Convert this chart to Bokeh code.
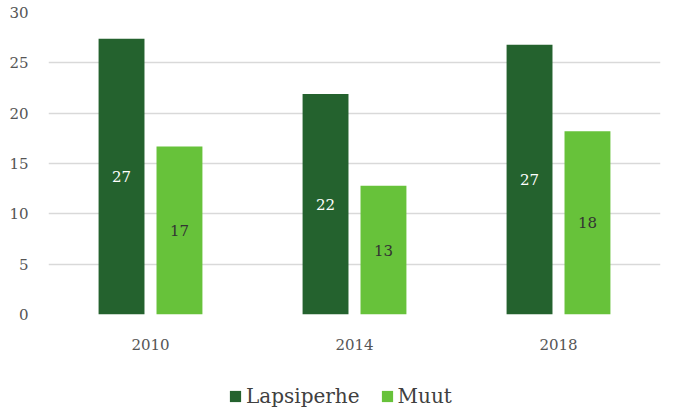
from bokeh.plotting import figure
from bokeh.models import ColumnDataSource, Legend, LegendItem, FactorRange, SingleIntervalTicker, Range1d
from bokeh.layouts import column
from bokeh.transform import dodge
from bokeh.embed import file_html
from bokeh.resources import INLINE
from bokeh.core.properties import value

years = ["2010", "2014", "2018"]
lapsiperhe = [27.4, 21.9, 26.8]
muut = [16.7, 12.8, 18.2]
lap_labels = ["27", "22", "27"]
muut_labels = ["17", "13", "18"]
series_names = ["Lapsiperhe", "Muut"]

DARK = "#24622e"
LIGHT = "#67c23a"
FONT = "DejaVu Serif"

src = ColumnDataSource(dict(
    years=years, lap=lapsiperhe, muut=muut,
    lap_mid=[v / 2 for v in lapsiperhe], muut_mid=[v / 2 for v in muut],
    lap_lab=lap_labels, muut_lab=muut_labels,
))

p = figure(width=674, height=365, x_range=FactorRange(*years), y_range=(0, 30),
           output_backend="svg", toolbar_location=None,
           min_border_left=48, min_border_right=14, min_border_top=12, min_border_bottom=51)
p.outline_line_color = None
p.background_fill_color = "white"
p.border_fill_color = "white"

p.vbar(x=dodge("years", -0.142, range=p.x_range), top="lap", width=0.225,
       source=src, color=DARK, line_color=None)
p.vbar(x=dodge("years", 0.142, range=p.x_range), top="muut", width=0.225,
       source=src, color=LIGHT, line_color=None)

p.text(x=dodge("years", -0.142, range=p.x_range), y="lap_mid", text="lap_lab", source=src,
       text_align="center", text_baseline="middle", text_color="white",
       text_font=value(FONT), text_font_size="15px")
p.text(x=dodge("years", 0.142, range=p.x_range), y="muut_mid", text="muut_lab", source=src,
       text_align="center", text_baseline="middle", text_color="#333333",
       text_font=value(FONT), text_font_size="15px")

p.yaxis.ticker = SingleIntervalTicker(interval=5)
p.ygrid.grid_line_color = "#d9d9d9"
p.ygrid.grid_line_width = 1.5
p.xgrid.grid_line_color = None
for ax in (p.xaxis, p.yaxis):
    ax.axis_line_color = None
    ax.major_tick_line_color = None
    ax.minor_tick_line_color = None
    ax.major_label_text_font = FONT
    ax.major_label_text_font_size = "15px"
    ax.major_label_text_color = "#555555"
p.yaxis.major_label_standoff = 14
p.xaxis.major_label_standoff = 18

# legend strip
lg = figure(width=674, height=50, x_range=Range1d(0, 1), y_range=Range1d(0, 1),
            output_backend="svg", toolbar_location=None,
            min_border_left=0, min_border_right=0, min_border_top=0, min_border_bottom=0)
lg.axis.visible = False
lg.grid.visible = False
lg.outline_line_color = None
hidden = ColumnDataSource(dict(x=[0.5], top=[0.5], bottom=[0.5]))
d1 = lg.vbar(x="x", top="top", bottom="bottom", width=0, source=hidden, color=DARK, line_color=None)
d2 = lg.vbar(x="x", top="top", bottom="bottom", width=0, source=hidden, color=LIGHT, line_color=None)

legend = Legend(items=[LegendItem(label=series_names[0], renderers=[d1]),
                       LegendItem(label=series_names[1], renderers=[d2])],
                orientation="horizontal", location=(180, 7),
                label_text_font=FONT, label_text_font_size="20px",
                label_text_color="#404040", glyph_width=14, glyph_height=14,
                spacing=20, label_standoff=4, border_line_color=None,
                background_fill_alpha=0, padding=0, margin=0)
lg.add_layout(legend, "center")

open("out.html", "w").write(file_html(column(p, lg, spacing=0), INLINE))
